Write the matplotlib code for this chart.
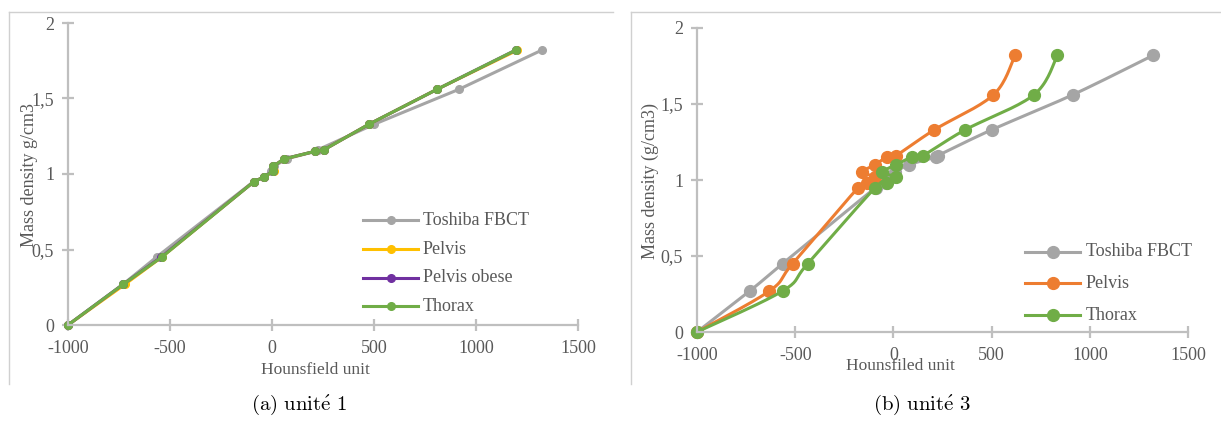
import numpy as np
import matplotlib
matplotlib.use("Agg")
import matplotlib.pyplot as plt
from matplotlib.lines import Line2D

plt.rcParams["mathtext.fontset"] = "cm"

# ---------------- data ----------------
density = [0.0, 0.27, 0.45, 0.95, 0.98, 1.02, 1.05, 1.10, 1.15, 1.16, 1.33, 1.56, 1.82]

# unité 1
hu1_toshiba = [-1000, -730, -566, -90, -40, -3, 8, 72, 212, 224, 502, 915, 1322]
hu1_pelvis = [-1000, -720, -540, -88, -38, 10, 4, 60, 211, 254, 476, 808, 1203]
hu1_pelvis_obese = [-1000, -729, -543, -88, -38, 4, 6, 58, 211, 254, 476, 808, 1194]
hu1_thorax = [-1000, -729, -540, -88, -38, 4, 4, 60, 211, 254, 476, 808, 1194]

# unité 3
hu3_toshiba = [-1000, -731, -564, -90, -40, -5, 10, 78, 215, 225, 500, 912, 1322]
hu3_pelvis = [-1000, -631, -513, -179, -132, -92, -159, -96, -33, 12, 208, 509, 619]
hu3_thorax = [-1000, -564, -436, -92, -33, 12, -57, 12, 94, 149, 365, 715, 835]

series1_names = ["Toshiba FBCT", "Pelvis", "Pelvis obese", "Thorax"]
series3_names = ["Toshiba FBCT", "Pelvis", "Thorax"]
x_ticks = [-1000, -500, 0, 500, 1000, 1500]
y_ticks = [0, 0.5, 1, 1.5, 2]
y_ticklabels = ["0", "0,5", "1", "1,5", "2"]

GRAY = "#A5A5A5"
YELLOW = "#FFC000"
PURPLE = "#7030A0"
GREEN = "#70AD47"
ORANGE = "#ED7D31"
AXC = "#BFBFBF"
TXT = "#595959"

SERIF = ["Liberation Serif", "DejaVu Serif"]

W, H = 1221, 423
fig = plt.figure(figsize=(W / 100, H / 100), dpi=100)


def fx(px):
    return px / W


def fy(py):
    return 1 - py / H


def smooth(ax, xs, ys, n=20):
    """Excel-like smoothed line (Catmull-Rom bezier in axes space)."""
    x0, x1 = ax.get_xlim()
    y0, y1 = ax.get_ylim()
    bb = ax.get_position()
    sx = bb.width * W / (x1 - x0)
    sy = bb.height * H / (y1 - y0)
    P = np.column_stack([(np.asarray(xs) - x0) * sx, (np.asarray(ys) - y0) * sy])
    out = [P[0]]
    m = len(P)
    for i in range(m - 1):
        p0 = P[i - 1] if i > 0 else P[i]
        p1 = P[i]
        p2 = P[i + 1]
        p3 = P[i + 2] if i + 2 < m else P[i + 1]
        c1 = p1 + (p2 - p0) / 6.0
        c2 = p2 - (p3 - p1) / 6.0
        t = np.linspace(0, 1, n)[1:, None]
        seg = ((1 - t) ** 3) * p1 + 3 * ((1 - t) ** 2) * t * c1 + 3 * (1 - t) * t ** 2 * c2 + t ** 3 * p2
        out.extend(seg)
    out = np.array(out)
    return out[:, 0] / sx + x0, out[:, 1] / sy + y0


def style_axes(ax):
    ax.set_xlim(-1000, 1500)
    ax.set_ylim(0, 2)
    for s in ["top", "right"]:
        ax.spines[s].set_visible(False)
    for s in ["left", "bottom"]:
        ax.spines[s].set_color(AXC)
        ax.spines[s].set_linewidth(1.6)
    ax.set_xticks(x_ticks)
    ax.set_xticklabels([str(v) for v in x_ticks])
    ax.set_yticks(y_ticks)
    ax.set_yticklabels(y_ticklabels)
    ax.tick_params(axis="both", direction="inout", length=8, width=1.6, color=AXC,
                   labelcolor=TXT, labelsize=13)
    ax.tick_params(axis="x", pad=7)
    ax.tick_params(axis="y", pad=6)
    for lab in ax.get_xticklabels() + ax.get_yticklabels():
        lab.set_family(SERIF)
    ax.patch.set_visible(False)


# ---------------- panel (a) ----------------
ax1 = fig.add_axes([fx(68), fy(325), fx(578 - 68), (325 - 23) / H])
style_axes(ax1)
colors1 = [GRAY, YELLOW, PURPLE, GREEN]
data1 = [hu1_toshiba, hu1_pelvis, hu1_pelvis_obese, hu1_thorax]
for name, hu, c in zip(series1_names, data1, colors1):
    ax1.plot(hu, density, color=c, lw=2.2, marker="o", ms=5.5, clip_on=False,
             solid_capstyle="round")

# ---------------- panel (b) ----------------
ax2 = fig.add_axes([fx(697), fy(332), fx(1188 - 697), (332 - 28) / H])
style_axes(ax2)
colors3 = [GRAY, ORANGE, GREEN]
data3 = [hu3_toshiba, hu3_pelvis, hu3_thorax]
for name, hu, c in zip(series3_names, data3, colors3):
    sx, sy = smooth(ax2, hu, density)
    ax2.plot(sx, sy, color=c, lw=2.2, clip_on=False, solid_capstyle="round")
    ax2.plot(hu, density, ls="none", color=c, marker="o", ms=8.5, clip_on=False)

# ---------------- legends (drawn manually in figure px) ----------------
def legend(names, colors, x_line0, x_line1, x_text, rows, ms):
    for name, c, yy in zip(names, colors, rows):
        fig.add_artist(Line2D([fx(x_line0), fx(x_line1)], [fy(yy), fy(yy)], color=c, lw=2.2,
                              transform=fig.transFigure))
        fig.add_artist(Line2D([fx((x_line0 + x_line1) / 2)], [fy(yy)], color=c, marker="o", ms=ms,
                              transform=fig.transFigure))
        fig.text(fx(x_text), fy(yy), name, family=SERIF, fontsize=13, color=TXT,
                 ha="left", va="center")


legend(series1_names, colors1, 363, 418, 423, [220, 249, 278, 306], 5.5)
legend(series3_names, colors3, 1025, 1080, 1086, [252, 283, 315], 8.5)

# ---------------- axis titles ----------------
fig.text(fx(30), fy(175), "Mass density g/cm3", rotation=90, family=SERIF, fontsize=13,
         color=TXT, ha="center", va="center")
fig.text(fx(315), fy(370), "Hounsfield unit", family=SERIF, fontsize=12.5, color=TXT,
         ha="center", va="center")
fig.text(fx(650), fy(181), "Mass density (g/cm3)", rotation=90, family=SERIF, fontsize=13,
         color=TXT, ha="center", va="center")
fig.text(fx(900), fy(366), "Hounsfiled unit", family=SERIF, fontsize=12.5, color=TXT,
         ha="center", va="center")

# ---------------- chart frames ----------------
FR = "#D0D0D0"
fig.add_artist(Line2D([fx(9), fx(9)], [fy(12), fy(384)], color=FR, lw=1, transform=fig.transFigure))
fig.add_artist(Line2D([fx(9), fx(613)], [fy(12), fy(12)], color=FR, lw=1, transform=fig.transFigure))
fig.add_artist(Line2D([fx(631), fx(631)], [fy(12), fy(384)], color=FR, lw=1, transform=fig.transFigure))
fig.add_artist(Line2D([fx(631), fx(1221)], [fy(12), fy(12)], color=FR, lw=1, transform=fig.transFigure))

# ---------------- captions ----------------
fig.text(fx(299), fy(405), r"$\mathrm{(a)\ unit\acute{e}\ 1}$", fontsize=15, color="black",
         ha="center", va="center")
fig.text(fx(922), fy(405), r"$\mathrm{(b)\ unit\acute{e}\ 3}$", fontsize=15, color="black",
         ha="center", va="center")

fig.savefig("out.png", dpi=100)
